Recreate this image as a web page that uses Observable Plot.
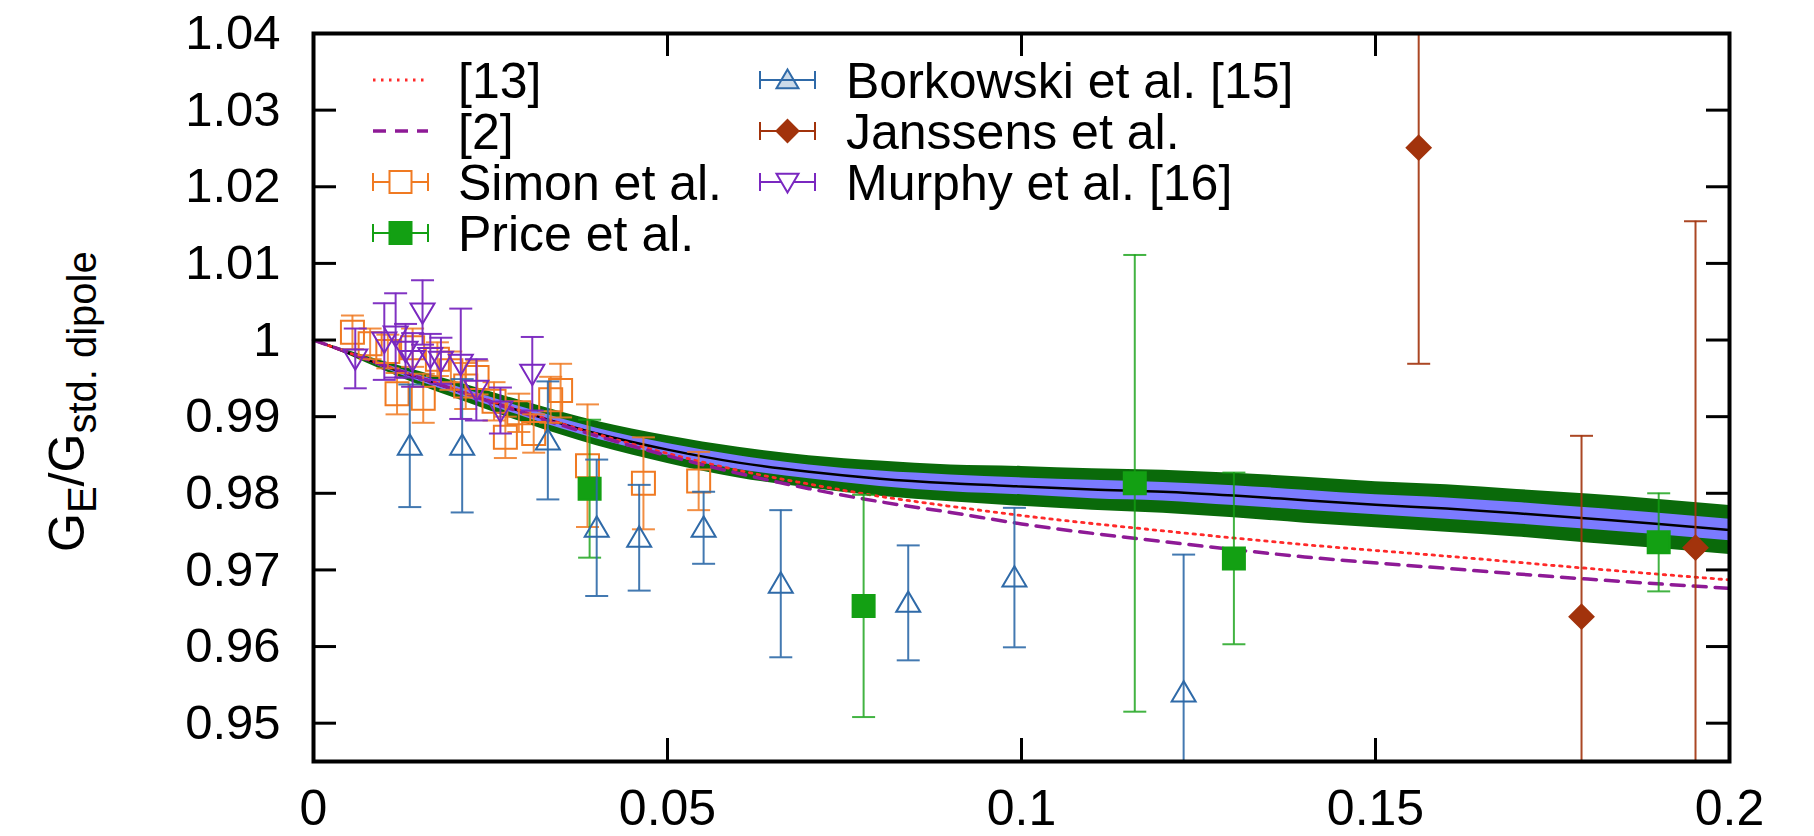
<!DOCTYPE html>
<html><head><meta charset="utf-8">
<script src="https://cdn.jsdelivr.net/npm/d3@7"></script>
<script src="https://cdn.jsdelivr.net/npm/@observablehq/plot@0.6"></script>
<style>
html,body{margin:0;padding:0;background:#fff;}
#chart{width:1814px;height:836px;}
</style></head><body><div id="chart"></div>
<script>
// ---------- axis ticks ----------
const xTickValues = [0, 0.05, 0.1, 0.15, 0.2];
const xTickLabels = ["0", "0.05", "0.1", "0.15", "0.2"];
const yTickValues = [0.95, 0.96, 0.97, 0.98, 0.99, 1.0, 1.01, 1.02, 1.03, 1.04];
const yTickLabels = ["0.95", "0.96", "0.97", "0.98", "0.99", "1", "1.01", "1.02", "1.03", "1.04"];

// ---------- fit band (centre, half-widths of outer/inner bands) ----------
const bandQ    = [0, 0.005, 0.01, 0.015, 0.02, 0.03, 0.04, 0.05, 0.06, 0.07, 0.08, 0.09, 0.1, 0.11, 0.12, 0.13, 0.14, 0.15, 0.16, 0.17, 0.18, 0.19, 0.2];
const bandMid  = [1.0, 0.9983, 0.9966, 0.9950, 0.9935, 0.9905, 0.9878, 0.9857, 0.9840, 0.9828, 0.9819, 0.9813, 0.9809, 0.9805, 0.9802, 0.9797, 0.9791, 0.9785, 0.9780, 0.9774, 0.9767, 0.9760, 0.9752];
const greenHalf= [0, 0.0003, 0.0006, 0.0009, 0.0011, 0.0014, 0.0016, 0.0018, 0.0020, 0.0021, 0.0023, 0.0024, 0.0026, 0.0027, 0.0028, 0.0029, 0.0030, 0.0030, 0.0031, 0.0031, 0.0032, 0.0032, 0.0032];
const blueHalf = [0, 0.0001, 0.0003, 0.0004, 0.0005, 0.0006, 0.0007, 0.0008, 0.0009, 0.0009, 0.0010, 0.0011, 0.0011, 0.0012, 0.0012, 0.0013, 0.0013, 0.0013, 0.0014, 0.0014, 0.0014, 0.0014, 0.0014];

// ---------- curves [13] and [2] ----------
const curveQ   = [0, 0.01, 0.02, 0.035, 0.05, 0.06, 0.07, 0.08, 0.09, 0.1, 0.12, 0.14, 0.16, 0.18, 0.2];
const ref13V   = [1.0, 0.9967, 0.9936, 0.9891, 0.9852, 0.9830, 0.9812, 0.9796, 0.9783, 0.9771, 0.9751, 0.9733, 0.9718, 0.9702, 0.9687];
const ref2V    = [1.0, 0.9967, 0.9935, 0.9889, 0.9849, 0.9826, 0.9806, 0.9789, 0.9775, 0.9760, 0.9737, 0.9717, 0.9702, 0.9688, 0.9676];

// ---------- data sets ----------
const simonQ = [0.0055, 0.0080, 0.0105, 0.0118, 0.0140, 0.0155, 0.0175, 0.0194, 0.0215, 0.0231, 0.0255, 0.0271, 0.0290, 0.0311, 0.0335, 0.0349, 0.0387, 0.0466, 0.0544];
const simonV = [1.0010, 0.9995, 0.9985, 0.9930, 0.9990, 0.9924, 0.9975, 0.9960, 0.9940, 0.9951, 0.9920, 0.9873, 0.9905, 0.9878, 0.9922, 0.9934, 0.9836, 0.9813, 0.9816];
const simonE = [0.0022, 0.0020, 0.0022, 0.0027, 0.0025, 0.0032, 0.0022, 0.0025, 0.0030, 0.0022, 0.0025, 0.0027, 0.0025, 0.0025, 0.0030, 0.0035, 0.0080, 0.0060, 0.0038];

const priceQ = [0.0390, 0.0777, 0.1160, 0.1300, 0.1900];
const priceV = [0.9806, 0.9653, 0.9813, 0.9715, 0.9736];
const priceE = [0.0090, 0.0145, 0.0298, 0.0112, 0.0064];

const borkQ = [0.0136, 0.0210, 0.0331, 0.0400, 0.0460, 0.0551, 0.0660, 0.0840, 0.0990, 0.1229];
const borkV = [0.9862, 0.9862, 0.9869, 0.9755, 0.9742, 0.9755, 0.9682, 0.9657, 0.9690, 0.9540];
const borkE = [0.0080, 0.0087, 0.0077, 0.0089, 0.0069, 0.0047, 0.0096, 0.0075, 0.0091, 0.0180];

const jansQ = [0.1561, 0.1791, 0.1952];
const jansV = [1.0251, 0.9639, 0.9729];
const jansE = [0.0282, 0.0236, 0.0426];

const murQ = [0.0059, 0.0100, 0.0116, 0.0130, 0.0140, 0.0154, 0.0165, 0.0180, 0.0208, 0.0230, 0.0264, 0.0309];
const murV = [0.9976, 0.9998, 1.0006, 0.9986, 0.9974, 1.0036, 0.9978, 0.9973, 0.9969, 0.9935, 0.9908, 0.9956];
const murE = [0.0039, 0.0050, 0.0055, 0.0035, 0.0035, 0.0042, 0.0030, 0.0030, 0.0072, 0.0040, 0.0030, 0.0048];

const legendLabels = ["[13]", "[2]", "Simon et al.", "Price et al.", "Borkowski et al. [15]", "Janssens et al.", "Murphy et al. [16]"];

// ---------- build tables ----------
const band = bandQ.map((q, i) => ({q, mid: bandMid[i], gLo: bandMid[i] - greenHalf[i], gHi: bandMid[i] + greenHalf[i], bLo: bandMid[i] - blueHalf[i], bHi: bandMid[i] + blueHalf[i]}));
const curves = curveQ.map((q, i) => ({q, a: ref13V[i], b: ref2V[i]}));
const rows = (Q, V, E) => Q.map((q, i) => ({q, v: V[i], e: E[i]}));
const simon = rows(simonQ, simonV, simonE);
const price = rows(priceQ, priceV, priceE);
const bork = rows(borkQ, borkV, borkE);
const jans = rows(jansQ, jansV, jansE);
const mur = rows(murQ, murV, murE);

// ---------- symbols ----------
const rad = s => Math.sqrt(s / Math.PI);
const capSym = {draw(c, s) { const r = rad(s); c.moveTo(-r, 0); c.lineTo(r, 0); }};
const triUp = {draw(c, s) { const r = rad(s); c.moveTo(0, -r * 0.95); c.lineTo(r, r * 0.75); c.lineTo(-r, r * 0.75); c.closePath(); }};
const triDown = {draw(c, s) { const r = rad(s); c.moveTo(0, r * 0.95); c.lineTo(r, -r * 0.75); c.lineTo(-r, -r * 0.75); c.closePath(); }};
const sq = {draw(c, s) { const r = rad(s); c.moveTo(-r, -r); c.lineTo(r, -r); c.lineTo(r, r); c.lineTo(-r, r); c.closePath(); }};
const dia = {draw(c, s) { const r = rad(s); c.moveTo(0, -r); c.lineTo(r, 0); c.lineTo(0, r); c.lineTo(-r, 0); c.closePath(); }};

const C = {
  simon: "#f07a22", price: "#13a013", bork: "#2f6aa8", jans: "#a2330c", mur: "#7a28c0",
  r13: "#ff2a2a", r2: "#8e1a96", green: "#0a6a0a", blue: "#7b7bff"
};
const FONT = "'Liberation Sans', Arial, Helvetica, sans-serif";

function errMarks(data, color, sym, r, filled, opacity) {
  return [
    Plot.ruleX(data, {x: "q", y1: d => d.v - d.e, y2: d => d.v + d.e, stroke: color, strokeWidth: 2, strokeOpacity: opacity, clip: true}),
    Plot.dot(data, {x: "q", y: d => d.v - d.e, symbol: capSym, r: 11.5, stroke: color, strokeWidth: 2, strokeOpacity: opacity, clip: true}),
    Plot.dot(data, {x: "q", y: d => d.v + d.e, symbol: capSym, r: 11.5, stroke: color, strokeWidth: 2, strokeOpacity: opacity, clip: true}),
    Plot.dot(data, {x: "q", y: "v", symbol: sym, r, stroke: color, strokeWidth: 2, fill: filled ? color : "none", clip: true})
  ];
}

const W = 1814, H = 836, mL = 313, mR = 85, mT = 33, mB = 75;
const pw = W - mL - mR, ph = H - mT - mB, tick = 23;

const chart = Plot.plot({
  width: W, height: H,
  marginLeft: mL, marginRight: mR, marginTop: mT, marginBottom: mB,
  style: {fontFamily: FONT, background: "#fff", color: "#000"},
  x: {domain: [0, 0.2], axis: null},
  y: {domain: [0.945, 1.04], axis: null},
  marks: [
    // band
    Plot.areaY(band, {x: "q", y1: "gLo", y2: "gHi", fill: C.green, curve: "monotone-x"}),
    Plot.areaY(band, {x: "q", y1: "bLo", y2: "bHi", fill: C.blue, curve: "monotone-x"}),
    Plot.line(band, {x: "q", y: "mid", stroke: "#000", strokeWidth: 2.5, curve: "monotone-x"}),
    // model curves
    Plot.line(curves, {x: "q", y: "a", stroke: C.r13, strokeWidth: 2.8, strokeDasharray: "2.5,5.5", curve: "monotone-x"}),
    Plot.line(curves, {x: "q", y: "b", stroke: C.r2, strokeWidth: 3.5, strokeDasharray: "13,9", curve: "monotone-x"}),
    // data
    ...errMarks(simon, C.simon, sq, 11.5, false, 0.85),
    ...errMarks(price, C.price, sq, 11, true, 0.8),
    ...errMarks(bork, C.bork, triUp, 12, false, 0.9),
    ...errMarks(jans, C.jans, dia, 12, true, 0.9),
    ...errMarks(mur, C.mur, triDown, 12, false, 0.95),
    // ticks (inward, mirrored)
    Plot.ruleY(yTickValues, {y: d => d, insetRight: pw - tick, stroke: "#000", strokeWidth: 3}),
    Plot.ruleY(yTickValues, {y: d => d, insetLeft: pw - tick, stroke: "#000", strokeWidth: 3}),
    Plot.ruleX(xTickValues, {x: d => d, insetTop: ph - tick, stroke: "#000", strokeWidth: 3}),
    Plot.ruleX(xTickValues, {x: d => d, insetBottom: ph - tick, stroke: "#000", strokeWidth: 3}),
    Plot.frame({stroke: "#000", strokeWidth: 4}),
    // tick labels
    Plot.axisY(yTickValues, {anchor: "left", tickSize: 0, tickPadding: 33, fontSize: 49, label: null,
      tickFormat: d => yTickLabels[yTickValues.findIndex(t => Math.abs(t - d) < 1e-9)]}),
    Plot.axisX(xTickValues, {anchor: "bottom", tickSize: 0, tickPadding: 28, fontSize: 50, label: null,
      tickFormat: d => xTickLabels[xTickValues.findIndex(t => Math.abs(t - d) < 1e-9)]})
  ]
});
document.getElementById("chart").appendChild(chart);

// ---------- y-axis title with subscripts ----------
const svg = d3.select(chart);
const yt = svg.append("text")
  .attr("transform", "translate(84,552) rotate(-90)")
  .attr("text-anchor", "start")
  .attr("font-size", 50).attr("fill", "#000")
  .attr("font-family", FONT);
yt.append("tspan").text("G");
yt.append("tspan").attr("font-size", 40).attr("dy", 12).text("E");
yt.append("tspan").attr("dy", -12).text("/G");
yt.append("tspan").attr("font-size", 40).attr("dy", 12).text("std. dipole");

// ---------- legend ----------
const lg = svg.append("g").attr("font-family", FONT).attr("font-size", 50).attr("text-anchor", "start");
const rowsY = [80, 131, 182, 233];
function lgText(x, y, t) { lg.append("text").attr("x", x).attr("y", y + 18).attr("fill", "#000").attr("text-anchor", "start").text(t); }
function lgErr(x0, y, color, shape, filled) {
  const x1 = x0 + 55, xm = (x0 + x1) / 2;
  lg.append("path").attr("d", `M${x0},${y}H${x1}M${x0},${y - 9}V${y + 9}M${x1},${y - 9}V${y + 9}`)
    .attr("stroke", color).attr("stroke-width", 2).attr("fill", "none");
  const p = d3.path(); shape.draw(p, Math.PI * 11 * 11);
  lg.append("path").attr("d", p.toString()).attr("transform", `translate(${xm},${y})`)
    .attr("stroke", color).attr("stroke-width", 2).attr("fill", filled ? color : (filled === null ? "rgba(47,106,168,0.25)" : "#fff"));
}
// column 1
lg.append("line").attr("x1", 373).attr("x2", 428).attr("y1", rowsY[0]).attr("y2", rowsY[0]).attr("stroke", C.r13).attr("stroke-width", 2.8).attr("stroke-dasharray", "2.5,5.5");
lgText(458, rowsY[0], legendLabels[0]);
lg.append("line").attr("x1", 373).attr("x2", 428).attr("y1", rowsY[1]).attr("y2", rowsY[1]).attr("stroke", C.r2).attr("stroke-width", 3.5).attr("stroke-dasharray", "13,9");
lgText(458, rowsY[1], legendLabels[1]);
lgErr(373, rowsY[2], C.simon, sq, false);
lgText(458, rowsY[2], legendLabels[2]);
lgErr(373, rowsY[3], C.price, sq, true);
lgText(458, rowsY[3], legendLabels[3]);
// column 2
lgErr(760, rowsY[0], C.bork, triUp, null);
lgText(846, rowsY[0], legendLabels[4]);
lgErr(760, rowsY[1], C.jans, dia, true);
lgText(846, rowsY[1], legendLabels[5]);
lgErr(760, rowsY[2], C.mur, triDown, false);
lgText(846, rowsY[2], legendLabels[6]);
</script></body></html>
